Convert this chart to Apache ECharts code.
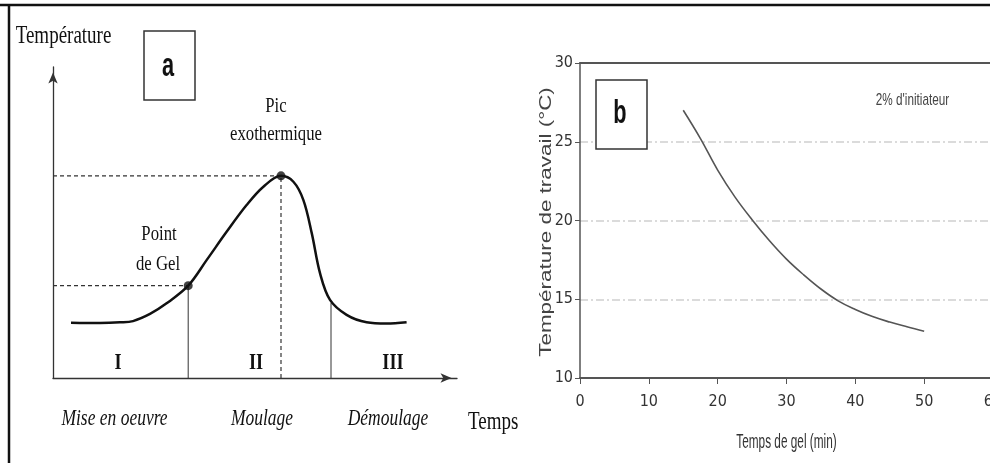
<!DOCTYPE html>
<html><head><meta charset="utf-8">
<script src="https://cdn.jsdelivr.net/npm/echarts@6/dist/echarts.min.js"></script>
<style>html,body{margin:0;padding:0;background:#fff}#c{width:990px;height:463px}</style>
</head><body><div id="c"></div>
<script>
// ---------- Panel a : schematic exotherm curve (arbitrary units) ----------
const timeA = [4.5, 11.75, 16.75, 20, 24.25, 28.4, 33.8, 38.4, 43.4, 48.4, 52.6, 57, 60.1, 62.6, 64.7, 66.75, 69.25, 73.4, 78.4, 83.4, 88.4];
const tempA = [17.8, 17.7, 17.9, 18.3, 20.6, 24.0, 29.7, 37.9, 47.0, 55.6, 61.5, 65.0, 63.1, 57.2, 46.5, 33.7, 25.1, 20.3, 17.9, 17.5, 17.9];
const gelPoint = [33.8, 29.7];
const peakPoint = [57, 65.0];
const demoulStart = [69.5, 24.1];
const phaseNumerals = ['I', 'II', 'III'];
const phaseNames = ['Mise en oeuvre', 'Moulage', 'Démoulage'];

// ---------- Panel b : working temperature vs gel time ----------
const gelTime = [15, 17.5, 20, 22.5, 25, 27.5, 30, 32.5, 35, 37.5, 40, 42.5, 45, 47.5, 50];
const workTemp = [27.0, 25.2, 23.2, 21.5, 20.05, 18.73, 17.55, 16.55, 15.65, 14.9, 14.35, 13.9, 13.55, 13.25, 12.97];
const xMinB = 0, xMaxB = 60, xStepB = 10;
const yMinB = 10, yMaxB = 30, yStepB = 5;

const SERIF = '"Liberation Serif", "Times New Roman", serif';
const SANS = '"Liberation Sans", Arial, sans-serif';
const NARROW = '"Liberation Sans Narrow", "Arial Narrow", "DejaVu Sans Condensed", "Liberation Sans", Arial, sans-serif';
const SX = 0.76;

function txt(x, y, text, font, extra, fill, align) {
  return Object.assign({
    type: 'text', x: x, y: y, scaleX: SX, z: 10,
    style: { text: text, font: font, fill: fill || '#111', textAlign: align || 'center', textVerticalAlign: 'middle', verticalAlign: 'middle' }
  }, extra || {});
}

const chart = echarts.init(document.getElementById('c'), null, { renderer: 'canvas' });

const axisA = {
  min: 0, axisTick: { show: false }, axisLabel: { show: false }, splitLine: { show: false },
  axisLine: { show: true, symbol: ['none', 'arrow'], symbolSize: [7, 11], symbolOffset: [0, -5.5],
    lineStyle: { color: '#333', width: 1.3 } }
};

const dashed = { color: '#333', width: 1.2, type: [4, 3] };
const solid = { color: '#333', width: 1 };
function seg(p, q, style) {
  return { type: 'line', xAxisIndex: 0, yAxisIndex: 0, data: [p, q], showSymbol: false, silent: true,
    lineStyle: style, z: 2 };
}

chart.setOption({
  animation: false,
  backgroundColor: '#fff',
  grid: [
    { left: 53, top: 67, width: 404, height: 311, containLabel: false, outerBoundsMode: 'none' },
    { left: 580, top: 63, width: 413, height: 315, containLabel: false, outerBoundsMode: 'none' }
  ],
  xAxis: [
    Object.assign({ gridIndex: 0, type: 'value', max: 101 }, axisA),
    { gridIndex: 1, type: 'value', min: xMinB, max: xMaxB, interval: xStepB,
      axisLine: { show: true, lineStyle: { color: '#555', width: 2 } },
      axisTick: { show: true, length: 6, lineStyle: { color: '#555', width: 1 } },
      axisLabel: { color: '#333', fontFamily: NARROW, fontSize: 16, margin: 16, showMaxLabel: true, hideOverlap: false },
      splitLine: { show: false } },
    { gridIndex: 1, type: 'value', position: 'top', min: xMinB, max: xMaxB, interval: xStepB,
      axisLine: { show: true, onZero: false, lineStyle: { color: '#555', width: 2 } },
      axisTick: { show: false }, axisLabel: { show: false }, splitLine: { show: false } }
  ],
  yAxis: [
    Object.assign({ gridIndex: 0, type: 'value', max: 100 }, axisA),
    { gridIndex: 1, type: 'value', min: yMinB, max: yMaxB, interval: yStepB,
      axisLine: { show: true, lineStyle: { color: '#555', width: 1.5 } },
      axisTick: { show: true, length: 5, lineStyle: { color: '#555', width: 1 } },
      axisLabel: { color: '#333', fontFamily: NARROW, fontSize: 16, margin: 7 },
      splitLine: { show: true, lineStyle: { color: '#cfcfcf', width: 1.5, type: [8, 3, 2, 3] } } }
  ],
  series: [
    seg([0, gelPoint[1]], gelPoint, dashed),
    seg([0, peakPoint[1]], peakPoint, dashed),
    seg([peakPoint[0], 0], peakPoint, dashed),
    seg([gelPoint[0], 0], gelPoint, solid),
    seg([demoulStart[0], 0], demoulStart, solid),
    { type: 'line', xAxisIndex: 0, yAxisIndex: 0, smooth: 0.35, showSymbol: false, silent: true, z: 3,
      data: timeA.map((t, i) => [t, tempA[i]]),
      lineStyle: { color: '#111', width: 2.5 } },
    { type: 'scatter', xAxisIndex: 0, yAxisIndex: 0, symbolSize: 9, z: 4, silent: true,
      itemStyle: { color: '#111' }, data: [gelPoint, peakPoint] },
    { type: 'line', xAxisIndex: 1, yAxisIndex: 1, smooth: 0.4, showSymbol: false, silent: true, z: 3,
      data: gelTime.map((t, i) => [t, workTemp[i]]),
      lineStyle: { color: '#555', width: 1.6 } }
  ],
  graphic: [
    // outer frame
    { type: 'line', shape: { x1: 0, y1: 5, x2: 990, y2: 5 }, style: { stroke: '#111', lineWidth: 2.5 } },
    { type: 'line', shape: { x1: 9, y1: 5, x2: 9, y2: 463 }, style: { stroke: '#111', lineWidth: 2.5 } },
    // panel a labels
    txt(63.5, 36, 'Température', '25px ' + SERIF),
    { type: 'rect', shape: { x: 144, y: 31, width: 51, height: 69 }, style: { stroke: '#333', fill: '#fff', lineWidth: 1.5 } },
    txt(168, 67, 'a', 'bold 34px ' + SANS, { scaleX: 0.64 }),
    txt(276, 106.5, 'Pic', '22px ' + SERIF),
    txt(276, 134.5, 'exothermique', '22px ' + SERIF),
    txt(159, 234.5, 'Point', '22px ' + SERIF),
    txt(158, 264.5, 'de Gel', '22px ' + SERIF),
    txt(118, 363, phaseNumerals[0], 'bold 24px ' + SERIF),
    txt(256, 363, phaseNumerals[1], 'bold 24px ' + SERIF),
    txt(393, 363, phaseNumerals[2], 'bold 24px ' + SERIF),
    txt(114.5, 419, phaseNames[0], 'italic 23px ' + SERIF),
    txt(262, 419, phaseNames[1], 'italic 23px ' + SERIF),
    txt(388, 419, phaseNames[2], 'italic 23px ' + SERIF),
    txt(468, 422, 'Temps', '25px ' + SERIF, null, '#111', 'left'),
    // panel b labels
    { type: 'rect', shape: { x: 596, y: 80, width: 51, height: 69 }, style: { stroke: '#333', fill: '#fff', lineWidth: 1.5 }, z: 10 },
    txt(620, 114, 'b', 'bold 34px ' + SANS, { scaleX: 0.64, z: 11 }),
    txt(912.5, 100.5, "2% d'initiateur", '17px ' + SANS, { scaleX: 0.69 }, '#444'),
    txt(786.5, 442, 'Temps de gel (min)', '20px ' + SANS, { scaleX: 0.59 }, '#333'),
    { type: 'text', x: 546, y: 222, rotation: Math.PI / 2, scaleX: 1.36, z: 10,
      style: { text: 'Température de travail (°C)', font: '16.5px ' + SANS, fill: '#444', textAlign: 'center', textVerticalAlign: 'middle', verticalAlign: 'middle' } }
  ]
});
</script></body></html>
